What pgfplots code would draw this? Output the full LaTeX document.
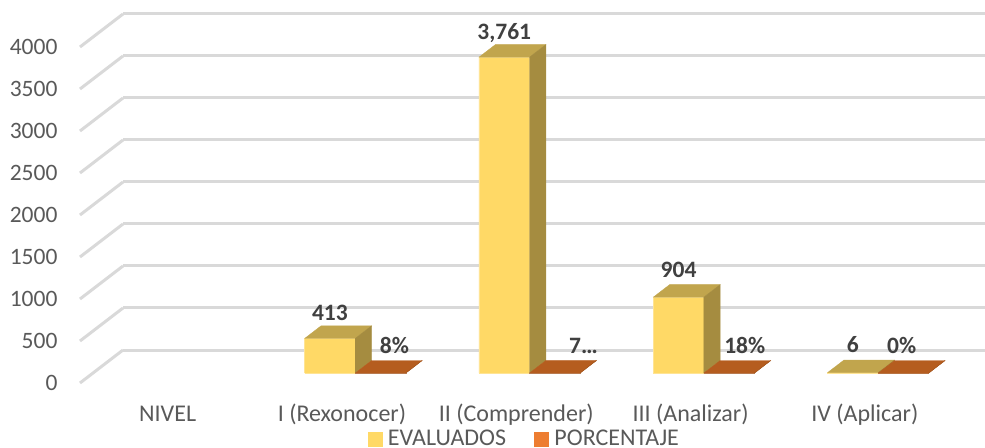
\documentclass[border=0pt]{standalone}
\usepackage{fontspec}
\setmainfont{Carlito}
\usepackage{pgfplots}
\pgfplotsset{compat=1.18}
\definecolor{gridc}{HTML}{D9D9D9}
\definecolor{tickc}{HTML}{595959}
\definecolor{labelc}{HTML}{404040}
\definecolor{yfront}{HTML}{FFD966}
\definecolor{ytop}{HTML}{C1A54D}
\definecolor{yside}{HTML}{A58C40}
\definecolor{otop}{HTML}{B55D1F}
\definecolor{oside}{HTML}{9E5119}
\definecolor{oleg}{HTML}{ED7D31}

% one 3D box: left x, right x, value, front, top and side colours
\newcommand{\barbox}[6]{
  \addplot3[forget plot, fill=#4, draw=#4!70!white, line width=.5pt] coordinates {(#1,0.3,0) (#2,0.3,0) (#2,0.3,#3) (#1,0.3,#3) (#1,0.3,0)};
  \addplot3[forget plot, fill=#5, draw=#5, line width=.3pt] coordinates {(#1,0.3,#3) (#2,0.3,#3) (#2,0.68,#3) (#1,0.68,#3) (#1,0.3,#3)};
  \addplot3[forget plot, fill=#6, draw=#6, line width=.3pt] coordinates {(#2,0.3,0) (#2,0.68,0) (#2,0.68,#3) (#2,0.3,#3) (#2,0.3,0)};
}
\newcommand{\lab}[4]{\node[font=\fontsize{23.5}{26}\selectfont\bfseries, text=labelc, anchor=base, inner sep=0pt] at (axis cs:#1,0.3,#2) [yshift=#3pt] {#4};}

\begin{document}
\begin{tikzpicture}
\begin{axis}[
    x={(174.3pt,0pt)},
    y={(43pt,33pt)},
    z={(0pt,0.084pt)},
    xmin=-0.5, xmax=4.5,
    ymin=0, ymax=1,
    zmin=0, zmax=4000,
    xtick={0,1,2,3,4},
    xticklabels={NIVEL,I (Rexonocer),II (Comprender),III (Analizar),IV (Aplicar)},
    ytick=\empty,
    ztick={0,500,1000,1500,2000,2500,3000,3500,4000},
    scaled z ticks=false,
    xmajorgrids=false,
    ymajorgrids=false,
    zmajorgrids=true,
    major grid style={draw=gridc, line width=3pt},
    axis line style={draw=none},
    major tick length=0pt,
    tick style={draw=none},
    clip=false,
    /pgf/number format/assume math mode=true,
    /pgf/number format/1000 sep={},
    ticklabel style={font=\fontsize{23.5}{26}\selectfont, text=tickc},
    xticklabel style={font=\fontsize{24}{26}\selectfont, anchor=base, xshift=0.5pt, yshift=-38pt},
    zticklabel style={anchor=east, xshift=-19pt},
    legend style={draw=none, fill=none, at={(0.5,0)}, anchor=north,
      xshift=-13pt, yshift=-43pt,
      legend columns=2, font=\fontsize{24}{26}\selectfont, text=tickc,
      /tikz/every odd column/.append style={column sep=4pt},
      /tikz/every even column/.append style={column sep=26pt}},
]
\barbox{0.715}{1.005}{413}{yfront}{ytop}{yside}
\barbox{1.005}{1.295}{0.08}{oside}{otop}{oside}
\barbox{1.715}{2.005}{3761}{yfront}{ytop}{yside}
\barbox{2.005}{2.295}{0.74}{oside}{otop}{oside}
\barbox{2.715}{3.005}{904}{yfront}{ytop}{yside}
\barbox{3.005}{3.295}{0.18}{oside}{otop}{oside}
\barbox{3.715}{4.005}{6}{yfront}{ytop}{yside}
\barbox{4.005}{4.295}{0.0012}{oside}{otop}{oside}

\lab{0.86}{413}{18}{413}
\lab{1.86}{3761}{18}{3,761}
\lab{2.86}{904}{20}{904}
\lab{3.86}{6}{20}{6}
\lab{1.23}{0}{20}{8\%}
\lab{2.315}{0}{20}{7…}
\lab{3.24}{0}{20}{18\%}
\lab{4.14}{0}{20}{0\%}

\addlegendimage{legend image code/.code={\fill[yfront] (0pt,-7pt) rectangle (14pt,7pt);}}
\addlegendentry{EVALUADOS}
\addlegendimage{legend image code/.code={\fill[oleg] (0pt,-7pt) rectangle (14pt,7pt);}}
\addlegendentry{PORCENTAJE}

\coordinate (o) at (axis cs:-0.5,0,0);
\end{axis}
\pgfresetboundingbox
\path[use as bounding box] (o) ++(-80pt,-64pt) rectangle ++(985pt,447pt);
\end{tikzpicture}
\end{document}
